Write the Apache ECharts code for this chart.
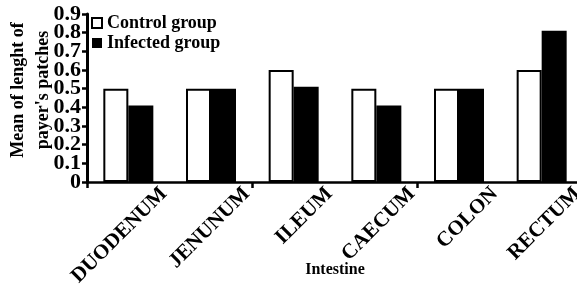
<!DOCTYPE html>
<html><head><meta charset="utf-8">
<script src="https://cdn.jsdelivr.net/npm/echarts@6/dist/echarts.min.js"></script>
<style>html,body{margin:0;padding:0;background:#fff}#c{width:577px;height:284px}</style>
</head><body><div id="c"></div>
<script>
var categories = ['DUODENUM', 'JENUNUM', 'ILEUM', 'CAECUM', 'COLON', 'RECTUM'];
var controlValues = [0.5, 0.5, 0.6, 0.5, 0.5, 0.6];
var infectedValues = [0.41, 0.5, 0.51, 0.41, 0.5, 0.81];
var yTicks = ['0', '0.1', '0.2', '0.3', '0.4', '0.5', '0.6', '0.7', '0.8', '0.9'];

var FONT = 'Liberation Serif';
var chart = echarts.init(document.getElementById('c'), null, {renderer: 'canvas'});
chart.setOption({
  animation: false,
  backgroundColor: '#fff',
  textStyle: {fontFamily: FONT, color: '#000', fontWeight: 'bold'},
  legend: {
    orient: 'vertical', left: 86, top: 9, itemGap: 2,
    itemWidth: 10, itemHeight: 10, icon: 'rect',
    textStyle: {fontFamily: FONT, fontSize: 18, fontWeight: 'bold', color: '#000'},
    data: ['Control group', 'Infected group']
  },
  grid: {left: 87, right: -6, top: 14, bottom: 102, containLabel: false, outerBoundsMode: 'none'},
  xAxis: [{
    type: 'category', data: categories, boundaryGap: true,
    axisLine: {lineStyle: {color: '#000', width: 2.5}},
    axisTick: {show: true, length: 6, lineStyle: {color: '#000', width: 2.5}},
    axisLabel: {show: false},
    name: 'Intestine', nameLocation: 'middle', nameGap: 80, nameMoveOverlap: false,
    nameTextStyle: {fontFamily: FONT, fontSize: 16, fontWeight: 'bold', color: '#000', verticalAlign: 'top'}
  }, {
    type: 'category', data: [''].concat(categories), boundaryGap: false, position: 'bottom',
    axisLine: {show: false}, axisTick: {show: false},
    axisLabel: {rotate: 45, margin: 3, interval: 0, fontFamily: FONT, fontSize: 21, fontWeight: 'bold', color: '#000', padding: [0, 8, 0, 0]}
  }],
  yAxis: [{
    type: 'value', min: 0, max: 0.9, interval: 0.1,
    axisLine: {show: true, lineStyle: {color: '#000', width: 3}},
    axisTick: {show: true, length: 5, lineStyle: {color: '#000', width: 2.5}},
    splitLine: {show: false},
    axisLabel: {show: false},
    name: 'Mean of lenght of\npayer\'s patches', nameLocation: 'middle', nameRotate: 90, nameGap: 31, nameMoveOverlap: false,
    nameTextStyle: {fontFamily: FONT, fontSize: 18, fontWeight: 'bold', color: '#000', lineHeight: 25, padding: [0, 0, 0, 16]}
  }, {
    type: 'category', data: yTicks, boundaryGap: false, position: 'left',
    axisLine: {show: false}, axisTick: {show: false}, splitLine: {show: false},
    axisLabel: {margin: 6, interval: 0, hideOverlap: false, fontFamily: FONT, fontSize: 22, fontWeight: 'bold', color: '#000'}
  }],
  series: [{
    name: 'Control group', type: 'bar', data: controlValues, barWidth: 25, barGap: '0%',
    itemStyle: {color: '#fff', borderColor: '#000', borderWidth: 2}
  }, {
    name: 'Infected group', type: 'bar', data: infectedValues, barWidth: 25, barGap: '0%',
    itemStyle: {color: '#000', borderColor: '#000', borderWidth: 0}
  }]
});
</script></body></html>
